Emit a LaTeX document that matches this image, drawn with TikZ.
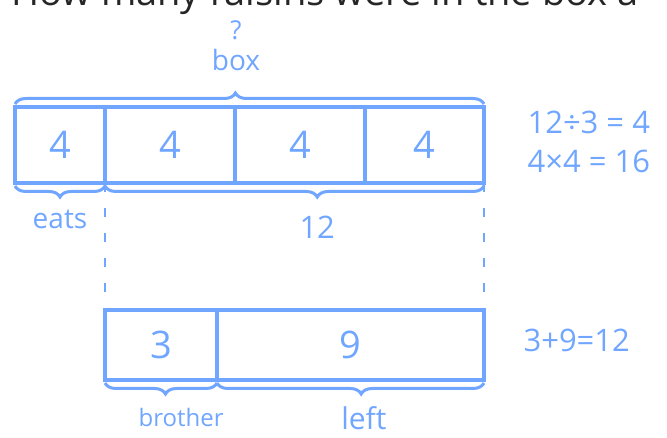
\documentclass[tikz,border=0pt]{standalone}
\usepackage{fontspec}
\setmainfont{Open Sans}
\usetikzlibrary{positioning, decorations.pathreplacing}
\definecolor{handblue}{RGB}{112,166,255}

\begin{document}
\begin{tikzpicture}[x=1pt, y=-1pt,
  every node/.style={text=handblue, font=\fontsize{26}{30}\selectfont},
  cell/.style={draw=handblue, line width=3.5pt, minimum height=76pt,
               inner sep=0pt, outer sep=0pt, font=\fontsize{38}{40}\selectfont},
  brc/.style={draw=handblue, line width=3pt, decorate,
              decoration={brace, amplitude=11pt, raise=3pt, aspect=#1}},
  brc/.default=0.5,
  guide/.style={draw=handblue, line width=2.5pt, dash pattern=on 9pt off 16pt},
  eqn/.style={font=\fontsize{31}{34}\selectfont, anchor=west}
]
  \useasboundingbox (0,0) rectangle (667,438);
  \clip (0,0) rectangle (667,438);

  % question, cut off at the top
  \node[anchor=base west, text=black!85, font=\fontsize{38}{40}\selectfont]
       (title) at (8,6) {How many raisins were in the box a};

  % the box: four equal parts
  \node[cell, minimum width=90pt] (a1) at (60,145) {4};
  \node[cell, minimum width=130pt, right=0pt of a1] (a2) {4};
  \node[cell, minimum width=130pt, right=0pt of a2] (a3) {4};
  \node[cell, minimum width=119pt, right=0pt of a3] (a4) {4};

  % what is left after the brother
  \node[cell, minimum width=112pt, minimum height=70pt] (b1) at (161,345) {3};
  \node[cell, minimum width=267pt, minimum height=70pt, right=0pt of b1] (b2) {9};

  \draw[brc=0.47] (a1.north west) -- (a4.north east);
  \node[font=\fontsize{28}{30}\selectfont] (boxlbl) at (236,60) {box};
  \node[above=2pt of boxlbl] (qmark) {?};

  \draw[brc] (a1.south east) -- (a1.south west)
       node[midway, below=22pt, font=\fontsize{28}{30}\selectfont] (eats) {eats};
  \draw[brc=0.44] (a4.south east) -- (a2.south west)
       node[pos=0.44, below=28pt, font=\fontsize{31}{32}\selectfont] (twelve) {12};

  \draw[brc=0.46] (b1.south east) -- (b1.south west)
       node[pos=0.32, below=23pt, font=\fontsize{24}{26}\selectfont] (bro) {brother};
  \draw[brc=0.46] (b2.south east) -- (b2.south west)
       node[pos=0.45, below=22pt, font=\fontsize{30}{32}\selectfont] (left) {left};

  \draw[guide] (a2.south west) -- (b1.north west);
  \draw[guide] (a4.south east) -- (b2.north east);

  % working
  \node[eqn] (eq1) at (524,122) {12÷3 = 4};
  \node[eqn, below=10pt of eq1.south west, anchor=north west] (eq2) {4×4 = 16};
  \node[eqn] (eq3) at (520,340) {3+9=12};
\end{tikzpicture}
\end{document}
